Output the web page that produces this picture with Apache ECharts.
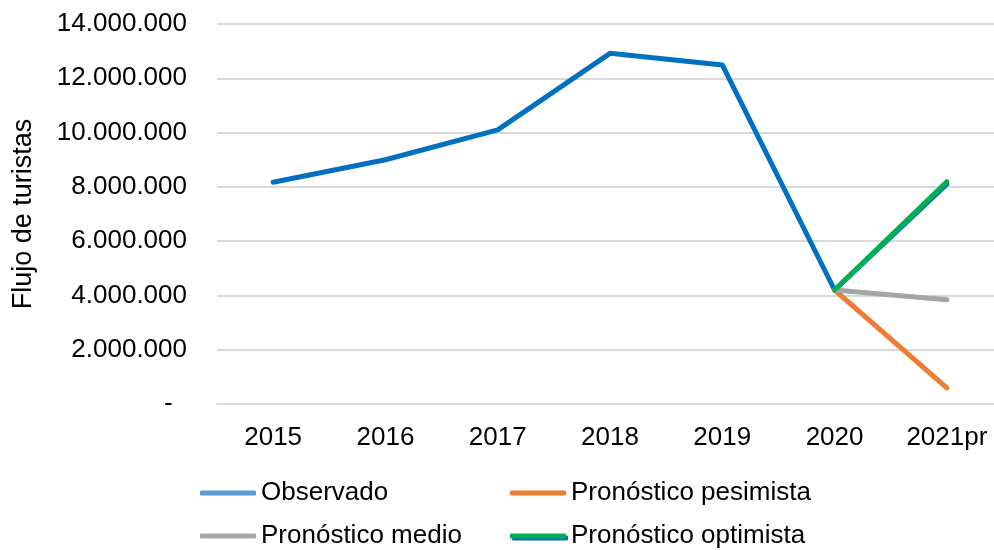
<!DOCTYPE html>
<html>
<head>
<meta charset="utf-8">
<script src="https://cdn.jsdelivr.net/npm/echarts@6/dist/echarts.min.js"></script>
<style>
  html, body { margin: 0; padding: 0; background: #fff; }
  #chart { width: 994px; height: 550px; }
</style>
</head>
<body>
<div id="chart"></div>
<script>
// datos
var years = ['2015', '2016', '2017', '2018', '2019', '2020', '2021pr'];
var observado = [8170000, 9000000, 10100000, 12920000, 12490000, 4200000, 8100000];
var pesimista = [null, null, null, null, null, 4200000, 590000];
var medio = [null, null, null, null, null, 4200000, 3840000];
var optimista = [null, null, null, null, null, 4200000, 8190000];
var yTicks = [0, 2000000, 4000000, 6000000, 8000000, 10000000, 12000000, 14000000];

var chart = echarts.init(document.getElementById('chart'));

var font = 'Liberation Sans, Arial, sans-serif';

function fmt(v) {
    if (v === 0) return '-  ';
    return String(v).replace(/\B(?=(\d{3})+(?!\d))/g, '.');
}

function legendItem(name, left, top, color, extra) {
    var item = {name: name, itemStyle: {color: color}};
    if (extra) {
        item.itemStyle.shadowColor = extra;
        item.itemStyle.shadowOffsetY = 2;
        item.itemStyle.shadowOffsetX = 2;
        item.itemStyle.shadowBlur = 0;
    }
    return {
        left: left,
        top: top,
        padding: 0,
        icon: 'roundRect',
        itemWidth: 56,
        itemHeight: 5,
        itemGap: 0,
        selectedMode: false,
        textStyle: {fontFamily: font, fontSize: 26, color: '#000'},
        data: [item]
    };
}

function line(name, data, color, z) {
    return {
        name: name,
        type: 'line',
        data: data,
        symbol: 'none',
        z: z,
        connectNulls: false,
        lineStyle: {color: color, width: 5, cap: 'round', join: 'round'},
        itemStyle: {color: color},
        emphasis: {disabled: true}
    };
}

option = {
    animation: false,
    backgroundColor: '#fff',
    grid: {
        left: 217,
        top: 24,
        width: 786,
        height: 380,
        containLabel: false,
        outerBoundsMode: 'none'
    },
    legend: [
        legendItem('Observado', 200, 480, '#5B9BD5'),
        legendItem('Pronóstico pesimista', 510, 480, '#ED7D31'),
        legendItem('Pronóstico medio', 200, 523, '#A5A5A5'),
        legendItem('Pronóstico optimista', 510, 523, '#00B050', '#0070C0')
    ],
    xAxis: {
        type: 'category',
        data: years,
        boundaryGap: true,
        axisLine: {show: true, lineStyle: {color: '#D9D9D9', width: 2}},
        axisTick: {show: false},
        axisLabel: {fontFamily: font, fontSize: 26, color: '#000', margin: 21, interval: 0}
    },
    yAxis: {
        type: 'value',
        min: yTicks[0],
        max: yTicks[yTicks.length - 1],
        interval: yTicks[1] - yTicks[0],
        name: 'Flujo de turistas',
        nameLocation: 'middle',
        nameGap: 180,
        nameTextStyle: {fontFamily: font, fontSize: 27, color: '#000'},
        axisLine: {show: false},
        axisTick: {show: false},
        splitLine: {lineStyle: {color: '#D9D9D9', width: 2}},
        axisLabel: {fontFamily: font, fontSize: 26, color: '#000', margin: 30, formatter: fmt}
    },
    series: [
        line('Observado', observado, '#0070C0', 3),
        line('Pronóstico pesimista', pesimista, '#ED7D31', 4),
        line('Pronóstico medio', medio, '#A5A5A5', 4),
        line('Pronóstico optimista', optimista, '#00B050', 5)
    ]
};

chart.setOption(option);
</script>
</body>
</html>
